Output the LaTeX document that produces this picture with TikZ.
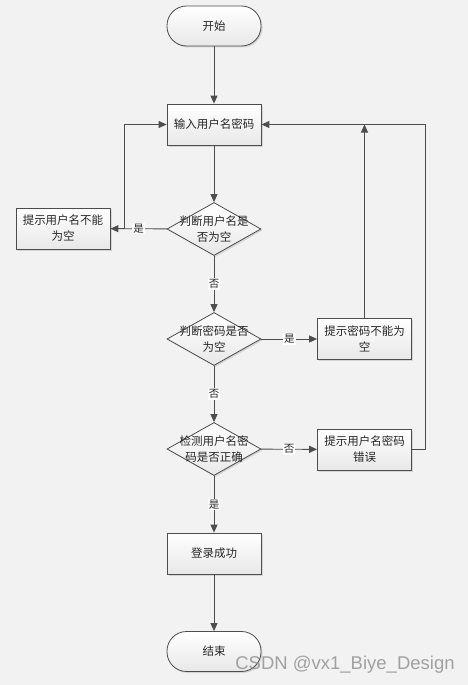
\documentclass[tikz,border=0pt]{standalone}
\usepackage{fontspec}
\setmainfont{Noto Sans CJK SC}
\newfontfamily\wmfont{Liberation Sans}
\usetikzlibrary{positioning, arrows.meta, shapes.geometric, shadows}
\definecolor{bgcol}{HTML}{F2F2F2}
\definecolor{linecol}{HTML}{4D4D4D}

\begin{document}
\begin{tikzpicture}[
    x=1pt, y=-1pt,
    every node/.style={font=\fontsize{11.5}{16}\selectfont, text=black!85},
    base/.style={draw=linecol, line width=0.8pt, top color=white, bottom color=black!9,
                 drop shadow={shadow xshift=1.5pt, shadow yshift=-1.5pt, opacity=0.25}},
    terminal/.style={base, rectangle, rounded corners=19.5pt,
                     minimum width=94pt, minimum height=40pt},
    process/.style={base, rectangle, align=center, inner sep=2pt,
                    minimum width=94pt, minimum height=41pt},
    decision/.style={base, diamond, inner sep=0pt,
                     minimum width=94pt, minimum height=53pt},
    flow/.style={draw=linecol, line width=0.9pt, -{Triangle[length=8pt,width=7pt]}},
    tag/.style={fill=white, inner sep=1pt, font=\fontsize{10.5}{10.5}\selectfont}
]
\useasboundingbox[fill=bgcol] (0,0) rectangle (468,685);

% main column
\node[terminal] (start)   at (214,26)  {开始};
\node[process]  (input)   at (214,124.5) {输入用户名密码};
\node[decision, label={[align=center]center:判断用户名是\\否为空}] (chkuser) at (214,229) {};
\node[decision, label={[align=center]center:判断密码是否\\为空}]   (chkpwd)  at (214,339) {};
\node[decision, label={[align=center]center:检测用户名密\\码是否正确}] (chkall) at (214,449) {};
\node[process]  (success) at (214,553.5) {登录成功};
\node[terminal] (finish)  at (214,651.5) {结束};

% hint boxes
\node[process] (usertip) at (63,228.5)  {提示用户名不能\\为空};
\node[process] (pwdtip)  at (364.5,339) {提示密码不能为\\空};
\node[process] (errtip)  at (364.5,449.5) {提示用户名密码\\错误};

\draw[flow] (start) -- (input);
\draw[flow] (input) -- (chkuser);
\draw[flow] (chkuser) -- node[tag] {是} (usertip);
\draw[flow] (usertip.east) -- ++(14,0) |- (input.west);
\draw[flow] (chkuser) -- node[tag] {否} (chkpwd);
\draw[flow] (chkpwd) -- node[tag] {是} (pwdtip);
\draw[flow] (pwdtip) -- (pwdtip |- input);
\draw[flow] (chkpwd) -- node[tag] {否} (chkall);
\draw[flow] (chkall) -- node[tag] {否} (errtip);
\draw[flow] (errtip.east) -- ++(14,0) |- (input.east);
\draw[flow] (chkall) -- node[tag] {是} (success);
\draw[flow] (success) -- (finish);

% watermark
\node[font=\wmfont\fontsize{18.5}{18.5}\selectfont, text=black!45, opacity=0.8] (mark) at (345,665) {CSDN @vx1\_Biye\_Design};
\end{tikzpicture}
\end{document}
